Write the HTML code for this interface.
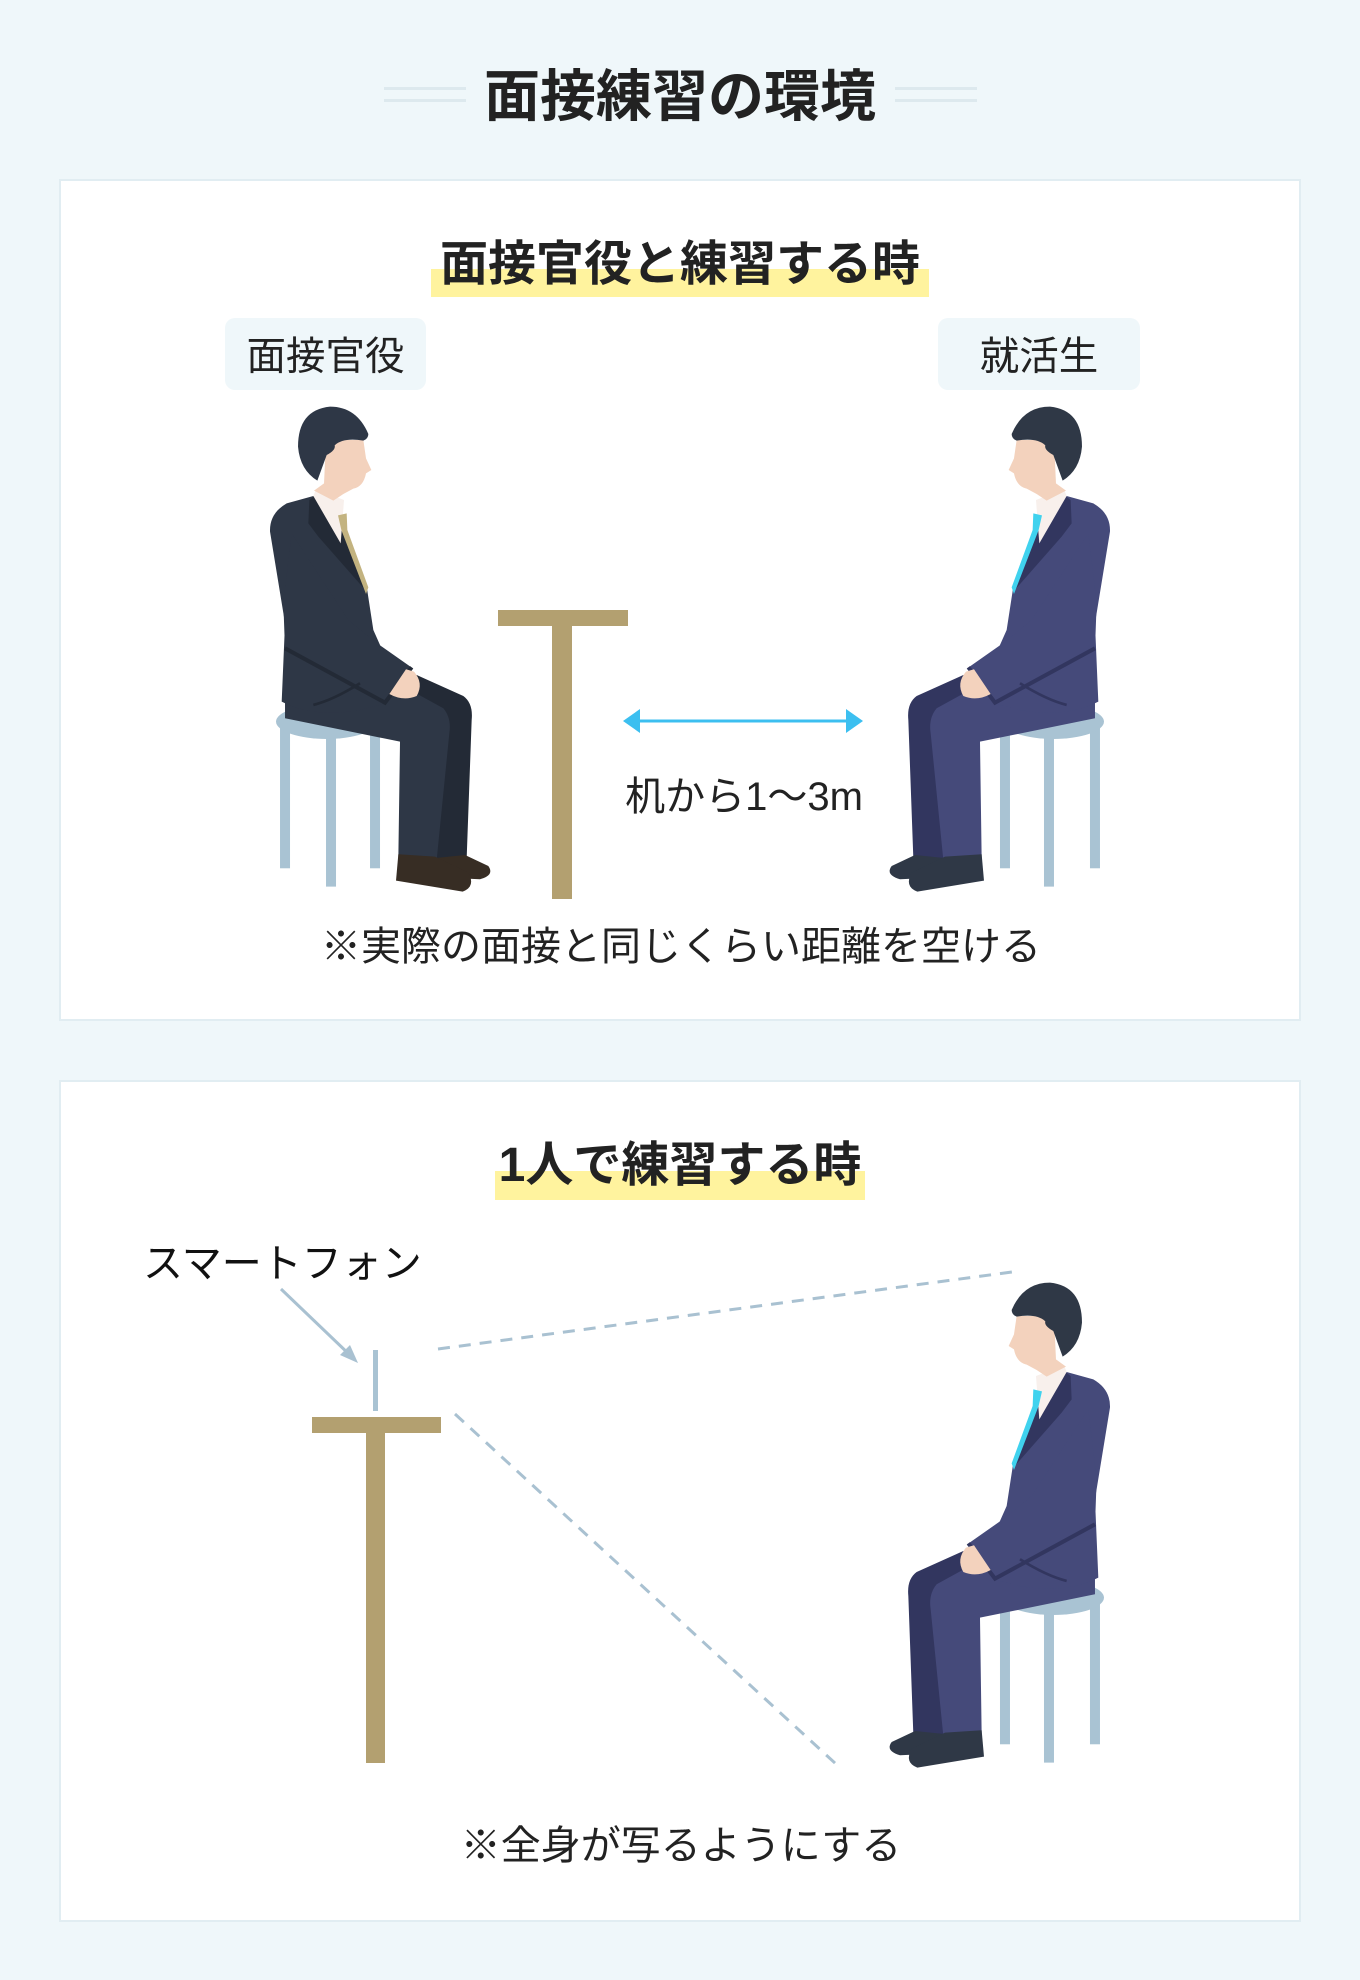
<!DOCTYPE html>
<html><head><meta charset="utf-8">
<style>
html,body{margin:0;padding:0}
body{width:1360px;height:1980px;background:#eff7fa;position:relative;overflow:hidden;font-family:"Liberation Sans","Noto Sans CJK JP",sans-serif;color:#222}
.t{position:absolute;white-space:nowrap}
.card{position:absolute;left:59px;width:1238px;background:#fff;border:2px solid #e1edf2}
.hl{position:absolute;background:#fff39e}
.lab{position:absolute;background:#eff7fa;border-radius:10px;font-size:39.5px;text-align:center;line-height:78px;height:72px;overflow:hidden}
svg{position:absolute;left:0;top:0}
</style></head><body>
<div style="position:absolute;left:384px;top:87px;width:82px;height:3px;background:#dde9ee"></div>
<div style="position:absolute;left:384px;top:99px;width:82px;height:3px;background:#dde9ee"></div>
<div style="position:absolute;left:895px;top:87px;width:82px;height:3px;background:#dde9ee"></div>
<div style="position:absolute;left:895px;top:99px;width:82px;height:3px;background:#dde9ee"></div>
<div class="t" style="left:0;width:1360px;text-align:center;top:64px;font-size:56px;font-weight:bold;line-height:66px">面接練習の環境</div>

<div class="card" style="top:179px;height:838px"></div>
<div class="card" style="top:1080px;height:838px"></div>

<div class="hl" style="left:431px;top:269px;width:498px;height:28px"></div>
<div class="t" style="left:0;width:1360px;text-align:center;top:235px;font-size:48px;font-weight:bold;line-height:60px">面接官役と練習する時</div>
<div class="lab" style="left:225px;top:318px;width:201px">面接官役</div>
<div class="lab" style="left:938px;top:318px;width:202px">就活生</div>

<div class="hl" style="left:495px;top:1171px;width:370px;height:29px"></div>
<div class="t" style="left:0;width:1360px;text-align:center;top:1136px;font-size:48px;font-weight:bold;line-height:60px">1人で練習する時</div>

<div class="t" style="left:614px;width:260px;text-align:center;top:773px;font-size:40px;line-height:48px">机から1〜3m</div>
<div class="t" style="left:0;width:1362px;text-align:center;top:923px;font-size:40px;line-height:48px">※実際の面接と同じくらい距離を空ける</div>
<div class="t" style="left:143px;top:1240px;font-size:40px;line-height:48px;color:#111">スマートフォン</div>
<div class="t" style="left:0;width:1362px;text-align:center;top:1822px;font-size:40px;line-height:48px">※全身が写るようにする</div>

<svg width="1360" height="1980" viewBox="0 0 1360 1980">
<defs>
<symbol id="man" viewBox="0 0 720 1520" overflow="visible">
  <g style="fill:#a9c3d3">
    <rect x="360" y="1010" width="30" height="425"/>
    <rect x="492" y="1010" width="30" height="480"/>
    <rect x="630" y="990" width="30" height="445"/>
    <ellipse cx="520" cy="995" rx="152" ry="52"/>
  </g>
  <path style="fill:var(--dark)" d="M250,855 L110,918 Q80,940 85,990 L100,1405 L205,1410 L195,1000 L640,950 L640,870 Z"/>
  <path style="fill:var(--suit)" d="M310,878 L170,955 Q145,985 152,1030 L190,1410 L305,1405 L300,1055 L645,985 L645,880 Z"/>
  <path style="fill:var(--shoe)" d="M105,1395 L35,1428 Q15,1455 60,1468 L190,1462 L200,1405 Z"/>
  <path style="fill:var(--shoe)" d="M195,1400 L95,1448 Q72,1490 112,1505 L312,1472 L305,1393 Z"/>
  <path style="fill:var(--suit)" d="M560,318 L640,340 Q692,370 690,425 L645,700 L655,935 Q560,985 420,960 L340,940 L300,900 L380,720 L400,590 L470,420 Z"/>
  <path style="fill:var(--dark)" d="M548,312 L572,330 L575,400 L545,440 L400,605 L470,420 Z"/>
  <path fill="#f8f0ec" d="M468,330 L552,298 L560,318 L478,460 Z"/>
  <path style="fill:var(--tie)" d="M460,370 L486,376 L476,420 L402,612 L395,592 L458,420 Z"/>
  <path style="fill:var(--suit)" d="M625,430 L650,640 L645,780 L345,945 L262,835 L380,752 L455,690 Z"/>
  <path style="fill:none;stroke:var(--dark);stroke-width:12" d="M265,832 L345,938 L645,775"/>
  <path style="fill:none;stroke:var(--dark);stroke-width:8" d="M420,880 Q500,930 560,945"/>
  <path fill="#f3d2bd" d="M258,845 Q228,880 250,918 Q290,935 332,912 L282,838 Z"/>
  <path fill="#f3d2bd" d="M410,150 L522,150 L528,280 L558,302 L500,332 L470,312 L440,296 Q410,290 402,250 L386,240 L402,205 Z"/>
  <path style="fill:var(--hair)" d="M395,132 Q430,50 510,50 Q606,60 606,170 Q600,240 548,272 L520,195 Q492,180 496,166 Q470,142 410,152 Q395,146 395,132 Z"/>
</symbol>
</defs>

<rect x="498" y="610" width="130" height="16" fill="#b3a070"/>
<rect x="552" y="610" width="20" height="289" fill="#b3a070"/>
<line x1="636" y1="721" x2="850" y2="721" stroke="#3cbff0" stroke-width="3"/>
<polygon points="623,721 640,709 640,733" fill="#3cbff0"/>
<polygon points="863,721 846,709 846,733" fill="#3cbff0"/>

<g transform="translate(500,390) scale(-0.3333,0.3333)" style="--suit:#2e3746;--dark:#232a36;--tie:#c3b380;--shoe:#372d24;--hair:#2e3746">
  <use href="#man" x="0" y="0" width="720" height="1520"/>
</g>
<g transform="translate(880,390) scale(0.3333)" style="--suit:#454a7a;--dark:#32365f;--tie:#40d2ee;--shoe:#2f3846;--hair:#2f3846">
  <use href="#man" x="0" y="0" width="720" height="1520"/>
</g>
<g transform="translate(880,1266) scale(0.3333)" style="--suit:#454a7a;--dark:#32365f;--tie:#40d2ee;--shoe:#2f3846;--hair:#2f3846">
  <use href="#man" x="0" y="0" width="720" height="1520"/>
</g>

<line x1="281" y1="1289" x2="352" y2="1357" stroke="#a9c1d1" stroke-width="3"/>
<polygon points="358,1363 340,1355 350,1345" fill="#a9c1d1"/>
<rect x="373" y="1350" width="5" height="61" fill="#a9c3d3"/>
<rect x="312" y="1417" width="129" height="16" fill="#b3a070"/>
<rect x="366" y="1417" width="19" height="346" fill="#b3a070"/>
<line x1="438" y1="1349" x2="1012" y2="1272" stroke="#a9c1d1" stroke-width="3" stroke-dasharray="12,9"/>
<line x1="455" y1="1414" x2="836" y2="1764" stroke="#a9c1d1" stroke-width="3" stroke-dasharray="12,9"/>
</svg>
</body></html>
